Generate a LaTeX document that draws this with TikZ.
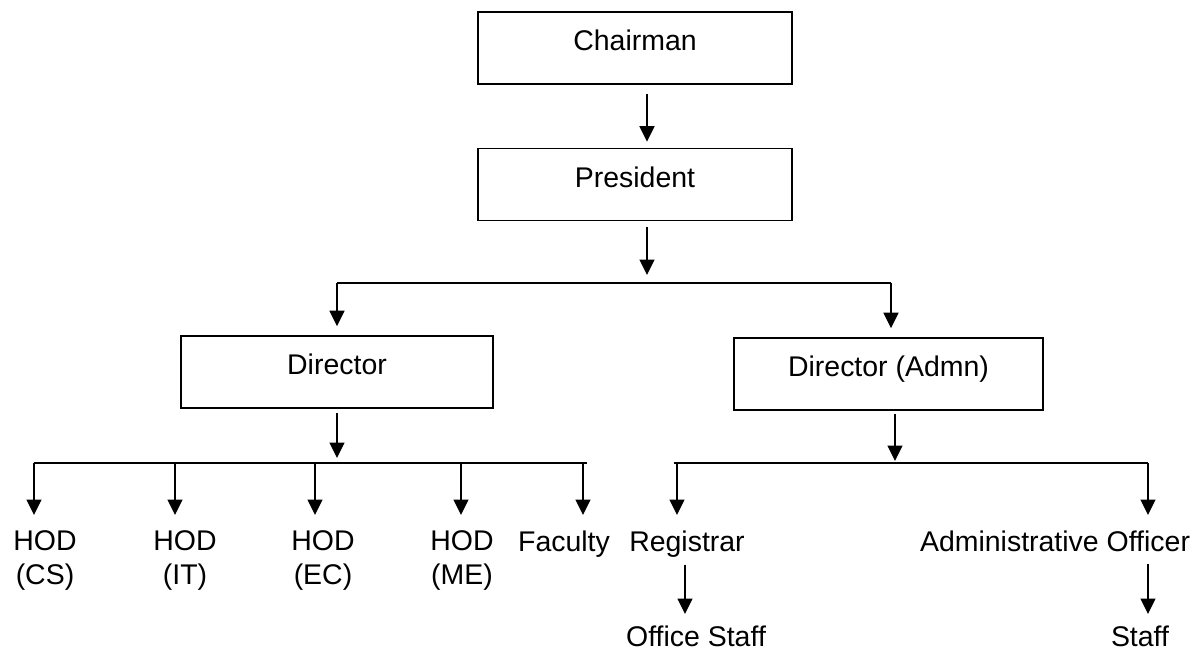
\documentclass[tikz,border=0pt]{standalone}
\usepackage{fontspec}
\setmainfont{Liberation Sans}
\usetikzlibrary{arrows.meta}

\begin{document}
\begin{tikzpicture}[x=0.02cm,y=-0.02cm,>={Triangle[length=0.31cm,width=0.3cm]},
   line width=0.9pt,
   every node/.style={font=\fontsize{16.2}{19.5}\selectfont},
   post/.style={draw,inner sep=0pt,minimum width=6.28cm,text height=0.78cm,text depth=0.66cm},
   lbl/.style={anchor=north,inner sep=0pt,align=center},
   bus/.style={line width=1.1pt}]
   \useasboundingbox (0,0) rectangle (1199,651);

   % 箱
   \node [post] (chair) at (635,48) {Chairman};
   \node [post] (pres) at (635,184.5) {President};
   \node [post,minimum width=6.24cm] (dir) at (337,372) {Director};
   \node [post,minimum width=6.18cm] (adm) at (888.5,374) {Director (Admn)};

   % 名前
   \node [lbl] (cs) at (45,530) {HOD\\(CS)};
   \node [lbl] (it) at (185,530) {HOD\\(IT)};
   \node [lbl] (ec) at (323,530) {HOD\\(EC)};
   \node [lbl] (me) at (462,530) {HOD\\(ME)};
   \node [lbl] (fac) at (564,530) {Faculty};
   \node [lbl] (reg) at (687,530) {Registrar};
   \node [lbl] (ao) at (1055,530) {Administrative Officer};
   \node [lbl] (ostaff) at (696,625) {Office Staff};
   \node [lbl] (staff) at (1140,625) {Staff};

   % 上の矢印
   \draw [->,shorten <=0.18cm,shorten >=0.12cm] ([xshift=0.24cm]chair.south) -- ([xshift=0.24cm]pres.north);
   \coordinate (b1) at (647,283);
   \coordinate (b1l) at (337,283);
   \coordinate (b1r) at (891,283);
   \draw [->,shorten <=0.12cm,shorten >=0.16cm] (pres.south -| b1) -- (b1);
   \draw [bus] (b1l) -- (b1r);
   \draw [->,shorten >=0.18cm] (b1l) -- (dir.north);
   \draw [->,shorten >=0.18cm] (b1r) -- (b1r |- adm.north);

   % Director
   \coordinate (b2) at (337,463);
   \draw [->,shorten <=0.08cm,shorten >=0.1cm] (dir.south) -- (b2);
   \draw [bus] (34,463) -- (587,463);
   \foreach \x/\n in {34/cs,175/it,315/ec,461/me,583/fac}{
      \coordinate (d) at (\x,463);
      \draw [->,shorten >=0.3cm] (d) -- (d |- \n.north);
   }

   % Director (Admn)
   \coordinate (b3) at (895,463);
   \coordinate (b3l) at (677,463);
   \coordinate (b3r) at (1148,463);
   \draw [->,shorten <=0.06cm,shorten >=0.04cm] (adm.south -| b3) -- (b3);
   \draw [bus] (674,463) -- (b3r);
   \draw [->,shorten >=0.3cm] (b3l) -- (b3l |- reg.north);
   \draw [->,shorten >=0.3cm] (b3r) -- (b3r |- ao.north);
   \draw [->,shorten <=0.13cm,shorten >=0.22cm] ([xshift=-0.04cm]reg.south) -- ([xshift=-0.04cm]reg.south |- ostaff.north);
   \draw [->,shorten <=0.24cm,shorten >=0.22cm] (b3r |- ao.south) -- (b3r |- staff.north);
\end{tikzpicture}
\end{document}
